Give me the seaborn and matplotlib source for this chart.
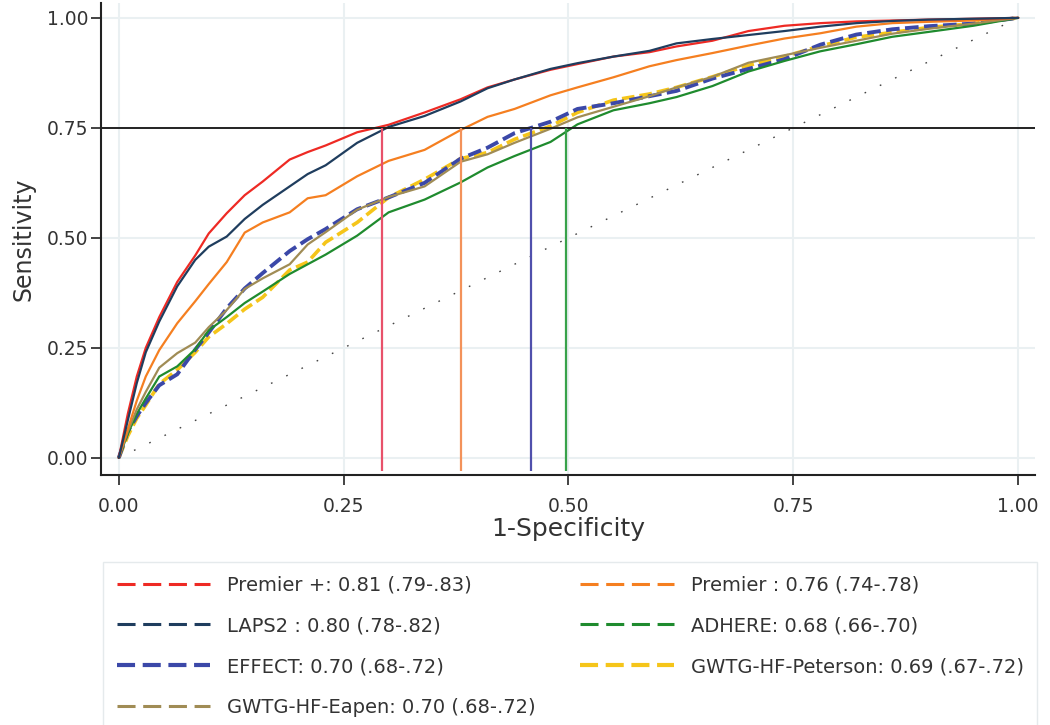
import pandas as pd
import matplotlib.pyplot as plt
import seaborn as sns
from matplotlib.lines import Line2D

# ---------------------------------------------
# ROC curve values
# ---------------------------------------------
fpr = [0, 0.01, 0.02, 0.03, 0.045, 0.065, 0.085, 0.1, 0.12, 0.14, 0.16, 0.19,
       0.21, 0.23, 0.265, 0.3, 0.34, 0.38, 0.41, 0.44, 0.48, 0.51, 0.55, 0.59,
       0.62, 0.66, 0.7, 0.74, 0.78, 0.82, 0.86, 0.9, 0.95, 1.0]

premier_plus = [0, 0.10, 0.185, 0.25, 0.32, 0.40, 0.46, 0.51, 0.556, 0.597, 0.628, 0.678,
                0.695, 0.71, 0.74, 0.757, 0.785, 0.815, 0.842, 0.86, 0.882, 0.895, 0.912, 0.922,
                0.935, 0.948, 0.97, 0.982, 0.988, 0.992, 0.994, 0.996, 0.998, 1.0]
laps2 = [0, 0.085, 0.17, 0.24, 0.31, 0.39, 0.45, 0.48, 0.503, 0.543, 0.575, 0.617,
         0.645, 0.665, 0.716, 0.752, 0.777, 0.81, 0.84, 0.86, 0.884, 0.897, 0.912, 0.925,
         0.942, 0.952, 0.961, 0.97, 0.98, 0.988, 0.993, 0.996, 0.998, 1.0]
premier = [0, 0.065, 0.13, 0.185, 0.245, 0.306, 0.356, 0.395, 0.445, 0.512, 0.535, 0.558,
           0.59, 0.597, 0.64, 0.675, 0.70, 0.745, 0.775, 0.793, 0.824, 0.842, 0.865, 0.89,
           0.904, 0.92, 0.937, 0.953, 0.965, 0.98, 0.988, 0.991, 0.994, 1.0]
effect = [0, 0.06, 0.095, 0.125, 0.165, 0.19, 0.246, 0.285, 0.34, 0.385, 0.42, 0.47,
          0.497, 0.52, 0.565, 0.592, 0.625, 0.68, 0.705, 0.738, 0.764, 0.793, 0.806, 0.822,
          0.834, 0.862, 0.884, 0.906, 0.939, 0.962, 0.974, 0.981, 0.987, 1.0]
eapen = [0, 0.06, 0.11, 0.15, 0.205, 0.238, 0.262, 0.297, 0.336, 0.384, 0.408, 0.44,
         0.485, 0.513, 0.564, 0.593, 0.617, 0.673, 0.69, 0.716, 0.748, 0.774, 0.798, 0.822,
         0.842, 0.866, 0.898, 0.915, 0.932, 0.948, 0.964, 0.975, 0.987, 1.0]
peterson = [0, 0.05, 0.09, 0.12, 0.168, 0.2, 0.24, 0.275, 0.305, 0.338, 0.365, 0.427,
            0.445, 0.49, 0.535, 0.592, 0.633, 0.68, 0.694, 0.724, 0.754, 0.785, 0.813, 0.827,
            0.842, 0.866, 0.892, 0.912, 0.936, 0.956, 0.967, 0.978, 0.987, 1.0]
adhere = [0, 0.055, 0.10, 0.135, 0.185, 0.208, 0.247, 0.29, 0.32, 0.352, 0.378, 0.418,
          0.44, 0.462, 0.505, 0.558, 0.587, 0.626, 0.66, 0.686, 0.718, 0.758, 0.79, 0.806,
          0.82, 0.845, 0.878, 0.902, 0.924, 0.94, 0.957, 0.968, 0.982, 1.0]

labels = ["Premier +: 0.81 (.79-.83)", "LAPS2 : 0.80 (.78-.82)", "EFFECT: 0.70 (.68-.72)",
          "GWTG-HF-Eapen: 0.70 (.68-.72)", "Premier : 0.76 (.74-.78)", "ADHERE: 0.68 (.66-.70)",
          "GWTG-HF-Peterson: 0.69 (.67-.72)"]

# cut-offs where each group of curves reaches sensitivity 0.75
cutoff_x = [0.293, 0.381, 0.458, 0.4975]
cutoff_colors = ["#e8516a", "#f3925a", "#5050ac", "#38a24a"]
sens_level = 0.75

ticks = [0, 0.25, 0.5, 0.75, 1.0]

# ---------------------------------------------
# styling
# ---------------------------------------------
sns.set_style("white")
plt.rcParams["font.family"] = ["DejaVu Sans"]

colors = {"Premier +": "#ee2a24", "LAPS2": "#1f3d5e", "EFFECT": "#3b48a8",
          "Eapen": "#a08c55", "Premier": "#f57f20", "ADHERE": "#1f8b2e",
          "Peterson": "#f5c51a"}

fig = plt.figure(figsize=(10.5, 7.25), dpi=100)
ax = fig.add_axes([0.096, 0.345, 0.89, 0.651])

# grid first
for t in ticks:
    ax.axhline(t, color="#eaf0f2", lw=1.5, zorder=0)
    ax.axvline(t, color="#eaf0f2", lw=1.5, zorder=0)

# chance diagonal (dotted)
ax.plot([0, 1], [0, 1], color="#444444", lw=1.0, linestyle=(0, (1.2, 11)), zorder=1)

# curves
series = [
    ("Peterson", peterson, 2.6, (0, (3.5, 1.4))),
    ("EFFECT", effect, 2.8, (0, (3.5, 1.4))),
    ("ADHERE", adhere, 1.6, "-"),
    ("Eapen", eapen, 1.6, "-"),
    ("Premier", premier, 1.6, "-"),
    ("Premier +", premier_plus, 1.6, "-"),
    ("LAPS2", laps2, 1.6, "-"),
]
for name, yvals, lw, ls in series:
    df = pd.DataFrame({"fpr": fpr, "tpr": yvals})
    sns.lineplot(data=df, x="fpr", y="tpr", ax=ax, color=colors[name], lw=lw,
                 linestyle=ls, sort=False, estimator=None, zorder=3)

# horizontal sensitivity line and vertical cut-offs
ax.axhline(sens_level, color="#222222", lw=1.4, zorder=4)
ax.vlines(cutoff_x, -0.03, sens_level, colors=cutoff_colors, lw=1.6, zorder=4)

ax.set_xlim(-0.02, 1.019)
ax.set_ylim(-0.0386, 1.034)
ax.set_xticks(ticks)
ax.set_yticks(ticks)
ax.set_xticklabels([f"{t:.2f}" for t in ticks])
ax.set_yticklabels([f"{t:.2f}" for t in ticks])
ax.tick_params(axis="both", direction="out", length=7, width=1.2, color="#222222",
               labelsize=13.5, labelcolor="#333333", pad=2, left=True, bottom=True)
ax.tick_params(axis="x", pad=9)
for s in ["top", "right"]:
    ax.spines[s].set_visible(False)
for s in ["left", "bottom"]:
    ax.spines[s].set_color("#222222")
    ax.spines[s].set_linewidth(1.5)

ax.set_xlabel("1-Specificity", fontsize=18, color="#333333", labelpad=1)
ax.set_ylabel("Sensitivity", fontsize=17, color="#333333", labelpad=8)

# legend (dashed handles as in the figure)
legend_order = ["Premier +", "LAPS2", "EFFECT", "Eapen", "Premier", "ADHERE", "Peterson"]
handles = []
for name in legend_order:
    lw = 3.0 if name in ("EFFECT", "Peterson") else 2.2
    handles.append(Line2D([0], [0], color=colors[name], lw=lw,
                          linestyle=(0, (13.0 / lw, 5.5 / lw))))

fig.legend(handles, labels, ncol=2, loc="upper left",
           bbox_to_anchor=(0.098, 0.0, 0.89, 0.225), mode="expand",
           borderaxespad=0, fontsize=14, handlelength=4.8, handletextpad=0.88,
           labelspacing=1.12, borderpad=0.7, frameon=True, fancybox=False,
           edgecolor="#dfe5e8", labelcolor="#333333")

fig.savefig("out.png", dpi=100)
